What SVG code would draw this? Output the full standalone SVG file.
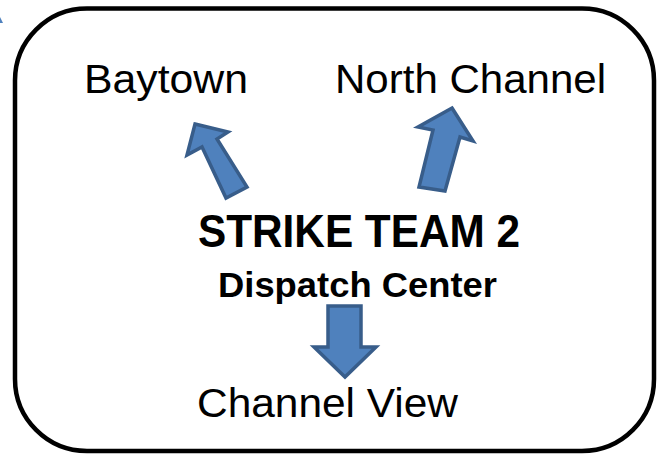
<svg xmlns="http://www.w3.org/2000/svg" width="660" height="456" viewBox="0 0 660 456">
<style>
.t{font-family:"Liberation Sans",Arial,sans-serif;fill:#000}
.b{font-weight:bold}
.arr{fill:#4F81BD;stroke:#385D8A;stroke-width:3.5;stroke-linejoin:miter}
</style>
<rect width="660" height="456" fill="#fff"/>
<path d="M0 17 L3 23 L0 23 Z" fill="#4F81BD"/>
<g id="frame">
<rect x="15" y="8.5" width="639" height="442.5" rx="72" ry="72" fill="none" stroke="#000" stroke-width="4.5"/>
</g>
<g id="baytown"><text class="t" x="84" y="93" font-size="40" textLength="164" lengthAdjust="spacingAndGlyphs">Baytown</text></g>
<g id="north-channel"><text class="t" x="335" y="93" font-size="40" textLength="271" lengthAdjust="spacingAndGlyphs">North Channel</text></g>
<g id="strike-team"><text class="t b" x="198" y="247" font-size="47" textLength="322" lengthAdjust="spacingAndGlyphs">STRIKE TEAM 2</text>
<text class="t b" x="218" y="297" font-size="35" textLength="279" lengthAdjust="spacingAndGlyphs">Dispatch Center</text></g>
<g id="channel-view"><text class="t" x="197" y="417" font-size="41" textLength="261" lengthAdjust="spacingAndGlyphs">Channel View</text></g>
<g id="connectors">
<polygon class="arr" points="195,124 228,132 217,139 247,187 226,198 202,147 187,155"/>
<polygon class="arr" points="452,108 473,141 460,137 445,191 419,187 433,130 418,127"/>
<polygon class="arr" points="328,306 361,306 361,347 376,347 345,377 314,347 328,347"/>
</g>
</svg>
